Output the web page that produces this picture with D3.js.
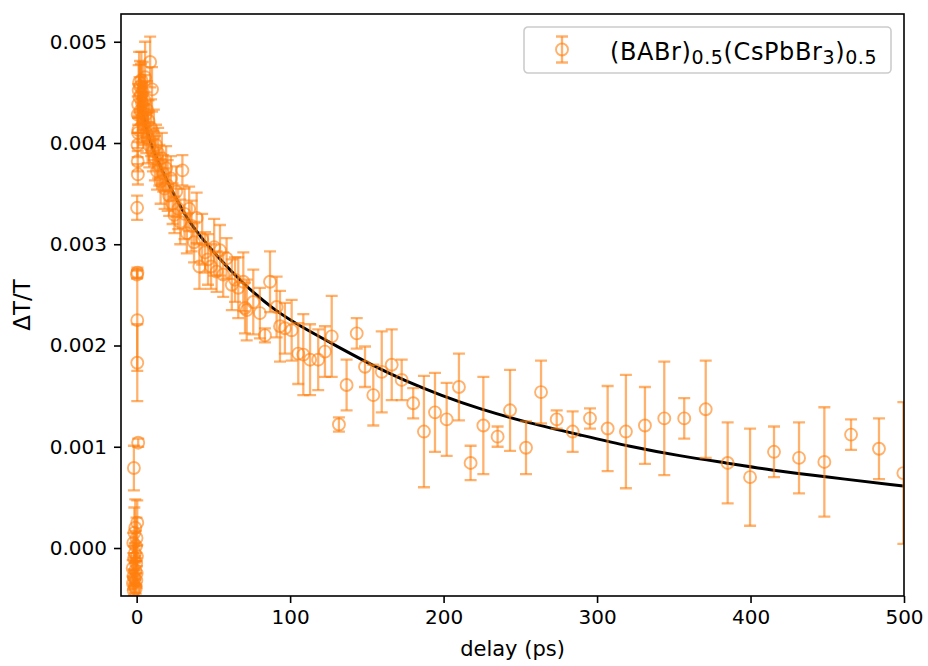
<!DOCTYPE html>
<html>
<head>
<meta charset="utf-8">
<script src="https://cdn.jsdelivr.net/npm/d3@7"></script>
<style>
  body { margin: 0; background: #fff; }
  text { font-family: "DejaVu Sans", sans-serif; fill: #000; }
</style>
</head>
<body>
<div id="chart"></div>
<script>
// Delay (ps) of each measured point.
const delay = [
  -2.6, -2.4, -2.2, -2.0, -1.9, -1.7, -1.5, -1.4, -1.2, -1.1, -0.9, -0.8, -0.6, -0.5, -0.3, -0.2, -0.1, 0.0, 0.2, 0.4,
  -1.8, 1.0, 0.4, 0.4, 0.2, 0.5, 0.3, 0.8, 0.6, 0.9, 0.7, 1.1, 0.7,
  1.0, 1.3, 1.6, 1.9, 2.2, 2.5, 2.8, 3.1, 3.4, 3.7, 4.0, 4.3, 4.7, 5.1, 5.5, 5.9, 6.3, 6.7, 7.2, 7.7,
  8.2, 8.8, 9.4, 10.0, 10.6, 11.2, 11.9, 12.6, 13.3, 14.0, 14.8, 15.6, 16.4, 17.3, 18.2, 19.2, 20.2,
  21.2, 22.3, 23.4, 24.6, 25.8, 27.1, 28.4, 29.8, 31.2, 32.7, 34.2, 35.8, 37.4, 39.1, 40.9, 42.7,
  44.6, 46.5, 48.5, 50.5, 52.1, 54.3, 56.4, 58.6, 62.0, 64.1, 66.2, 69.5, 70.6, 71.7, 76.0, 80.3,
  83.6, 86.9, 91.2, 93.4, 96.6, 101.0, 105.3, 108.6, 113.0, 118.3, 122.7, 127.1, 131.8, 136.8,
  143.4, 148.8, 154.2, 159.7, 166.2, 172.7, 180.2, 187.2, 194.4, 202.0, 210.0, 217.6, 225.9,
  235.2, 243.3, 253.7, 263.5, 273.7, 284.1, 295.4, 306.9, 318.8, 331.2, 343.8, 356.8, 370.8,
  385.1, 399.7, 415.3, 431.6, 448.1, 465.5, 483.7, 499.6
];

// ΔT/T of each point, in units of 1e-3.
const signal = [
  -0.20, -0.35, 0.05, -0.28, -0.42, -0.10, 0.15, -0.30, -0.05, -0.38, 0.20, -0.22, -0.40, 0.02, -0.15, -0.32, 0.10, -0.25, -0.08, 0.25,
  0.79, 1.04, 1.83, 2.25, 2.70, 2.72, 3.36, 3.69, 3.98, 4.10, 4.28, 4.13, 3.82,
  4.38, 4.52, 4.60, 4.45, 4.56, 4.32, 4.48, 4.62, 4.40, 4.25, 4.50, 4.35, 4.18, 4.42, 4.65, 4.28, 4.10, 4.33, 4.05, 4.22,
  3.98, 4.80, 4.15, 4.53, 3.92, 4.08, 3.85, 3.98, 3.72, 3.90, 3.78, 3.62, 3.85, 3.70, 3.55, 3.75, 3.58,
  3.48, 3.65, 3.40, 3.29, 3.52, 3.35, 3.22, 3.73, 3.30, 3.11, 3.35, 3.18, 3.02, 3.26, 2.78, 3.05,
  2.92, 2.85, 2.78, 2.97, 2.73, 2.94, 2.70, 2.86, 2.60, 2.65, 2.57, 2.63, 2.37, 2.35, 2.43, 2.32,
  2.10, 2.63, 2.38, 2.19, 2.17, 2.15, 1.92, 1.91, 1.86, 1.86, 1.94, 2.09, 1.22, 1.61,
  2.12, 1.79, 1.51, 1.74, 1.81, 1.66, 1.43, 1.15, 1.34, 1.27, 1.59, 0.84, 1.21,
  1.10, 1.36, 0.99, 1.54, 1.27, 1.15, 1.28, 1.18, 1.15, 1.21, 1.28, 1.28, 1.37,
  0.84, 0.70, 0.95, 0.89, 0.85, 1.12, 0.98, 0.74
];

// Error bar half-length, in units of 1e-3.
const errors = [
  0.08, 0.06, 0.10, 0.07, 0.05, 0.12, 0.25, 0.08, 0.10, 0.06, 0.28, 0.09, 0.05, 0.15, 0.10, 0.07, 0.20, 0.12, 0.10, 0.22,
  0.22, 0.04, 0.38, 0.50, 0.04, 0.05, 0.12, 0.10, 0.12, 0.15, 0.18, 0.12, 0.10,
  0.20, 0.25, 0.30, 0.20, 0.25, 0.22, 0.30, 0.28, 0.20, 0.25, 0.30, 0.22, 0.20, 0.25, 0.35, 0.22, 0.20, 0.28, 0.25, 0.20,
  0.22, 0.25, 0.28, 0.22, 0.20, 0.25, 0.22, 0.20, 0.18, 0.25, 0.20, 0.22, 0.25, 0.18, 0.20, 0.22, 0.25,
  0.20, 0.22, 0.20, 0.18, 0.25, 0.20, 0.22, 0.15, 0.25, 0.20, 0.22, 0.25, 0.20, 0.25, 0.22, 0.25,
  0.20, 0.25, 0.22, 0.28, 0.20, 0.25, 0.22, 0.20, 0.25, 0.22, 0.30, 0.29, 0.25, 0.30, 0.32, 0.25,
  0.07, 0.30, 0.30, 0.35, 0.25, 0.30, 0.30, 0.40, 0.35, 0.30, 0.25, 0.40, 0.07, 0.25,
  0.15, 0.20, 0.30, 0.40, 0.35, 0.20, 0.15, 0.55, 0.39, 0.36, 0.33, 0.17, 0.48,
  0.10, 0.40, 0.26, 0.31, 0.09, 0.20, 0.10, 0.42, 0.56, 0.38, 0.56, 0.20, 0.48,
  0.40, 0.48, 0.25, 0.35, 0.54, 0.15, 0.30, 0.70
];

// Fitted decay curve.
const fitDelay = [1.5, 5, 8.7, 17.3, 25, 33, 41.2, 54.3, 67.3, 89, 110.8, 132.5, 154, 176, 197.6,
  223.7, 256.3, 288.9, 321.5, 354, 385.5, 412.7, 447.4, 499.6];
const fitSignal = [4.47, 4.22, 4.00, 3.70, 3.47, 3.25, 3.08, 2.85, 2.64, 2.352, 2.154, 1.976, 1.80,
  1.643, 1.512, 1.371, 1.232, 1.117, 1.001, 0.909, 0.837, 0.771, 0.705, 0.613];

const xTicks = [0, 100, 200, 300, 400, 500];
const yTicks = [0, 0.001, 0.002, 0.003, 0.004, 0.005];
const legendLabel = [
  { text: "(BABr)", sub: false },
  { text: "0.5", sub: true },
  { text: "(CsPbBr", sub: false },
  { text: "3", sub: true },
  { text: ")", sub: false },
  { text: "0.5", sub: true },
];

const width = 928;
const height = 666;
const margin = { left: 121, right: 24, top: 14, bottom: 70 };
const orange = "#ff7f0e";
const alpha = 0.6;

const points = delay.map((t, i) => ({
  t: t,
  v: signal[i] * 1e-3,
  e: errors[i] * 1e-3,
}));
const fit = fitDelay.map((t, i) => ({ t: t, v: fitSignal[i] * 1e-3 }));

const svg = d3
  .select("#chart")
  .append("svg")
  .attr("width", width)
  .attr("height", height);

const x = d3
  .scaleLinear()
  .domain([-10.2, 500])
  .range([margin.left, width - margin.right]);

const y = d3
  .scaleLinear()
  .domain([-0.000474, 0.005274])
  .range([height - margin.bottom, margin.top]);

svg
  .append("clipPath")
  .attr("id", "plot-clip")
  .append("rect")
  .attr("x", margin.left)
  .attr("y", margin.top)
  .attr("width", width - margin.left - margin.right)
  .attr("height", height - margin.top - margin.bottom);

const plot = svg.append("g").attr("clip-path", "url(#plot-clip)");

// Fit line goes underneath the points.
const line = d3
  .line()
  .x((d) => x(d.t))
  .y((d) => y(d.v))
  .curve(d3.curveBasis);

plot
  .append("path")
  .datum(fit)
  .attr("d", line)
  .attr("fill", "none")
  .attr("stroke", "#000")
  .attr("stroke-width", 3);

// Error bars, caps and hollow markers.
const cap = 6;
const pt = plot
  .selectAll("g.pt")
  .data(points)
  .enter()
  .append("g")
  .attr("class", "pt")
  .attr("stroke", orange)
  .attr("stroke-width", 2.3)
  .attr("fill", "none");

pt.append("line")
  .attr("x1", (d) => x(d.t))
  .attr("x2", (d) => x(d.t))
  .attr("y1", (d) => y(d.v - d.e))
  .attr("y2", (d) => y(d.v + d.e))
  .attr("stroke-opacity", alpha);

pt.append("path")
  .attr("d", (d) => {
    const cx = x(d.t);
    return (
      "M" + (cx - cap) + "," + y(d.v + d.e) + "H" + (cx + cap) +
      "M" + (cx - cap) + "," + y(d.v - d.e) + "H" + (cx + cap)
    );
  })
  .attr("stroke-opacity", alpha);

pt.append("circle")
  .attr("cx", (d) => x(d.t))
  .attr("cy", (d) => y(d.v))
  .attr("r", 6)
  .attr("stroke-width", 1.9)
  .attr("stroke-opacity", alpha);

// Axes.
const xAxis = d3.axisBottom(x).tickValues(xTicks).tickSize(7).tickPadding(7);
const yAxis = d3
  .axisLeft(y)
  .tickValues(yTicks)
  .tickSize(7)
  .tickPadding(7)
  .tickFormat(d3.format(".3f"));

const gx = svg
  .append("g")
  .attr("transform", "translate(0," + (height - margin.bottom) + ")")
  .call(xAxis);
const gy = svg
  .append("g")
  .attr("transform", "translate(" + margin.left + ",0)")
  .call(yAxis);

[gx, gy].forEach((g) => {
  g.select(".domain").remove();
  g.selectAll(".tick line").attr("stroke", "#000").attr("stroke-width", 1.6);
  g.selectAll(".tick text")
    .attr("font-size", 20)
    .attr("font-family", "DejaVu Sans");
});

// Frame.
svg
  .append("rect")
  .attr("x", margin.left)
  .attr("y", margin.top)
  .attr("width", width - margin.left - margin.right)
  .attr("height", height - margin.top - margin.bottom)
  .attr("fill", "none")
  .attr("stroke", "#000")
  .attr("stroke-width", 1.6);

// Axis labels.
svg
  .append("text")
  .attr("x", (margin.left + width - margin.right) / 2)
  .attr("y", 656)
  .attr("text-anchor", "middle")
  .attr("font-size", 21)
  .text("delay (ps)");

svg
  .append("text")
  .attr("transform", "translate(30," + (margin.top + height - margin.bottom) / 2 + ") rotate(-90)")
  .attr("text-anchor", "middle")
  .attr("font-size", 23)
  .text("ΔT/T");

// Legend.
const legend = svg.append("g").attr("transform", "translate(524,27)");
legend
  .append("rect")
  .attr("width", 367)
  .attr("height", 46)
  .attr("rx", 4)
  .attr("fill", "#fff")
  .attr("fill-opacity", 0.8)
  .attr("stroke", "#cccccc")
  .attr("stroke-width", 1.6);

const lm = legend
  .append("g")
  .attr("transform", "translate(38,22.5)")
  .attr("stroke", orange)
  .attr("stroke-opacity", alpha)
  .attr("fill", "none")
  .attr("stroke-width", 2.3);
lm.append("line").attr("y1", -13).attr("y2", 13);
lm.append("path").attr("d", "M-6,-13H6M-6,13H6");
lm.append("circle").attr("r", 6).attr("stroke-width", 1.9);

const lt = legend
  .append("text")
  .attr("x", 86)
  .attr("y", 33)
  .attr("font-size", 24)
  .attr("letter-spacing", 0.6);
legendLabel.forEach((p, i) => {
  const prevSub = i > 0 && legendLabel[i - 1].sub;
  const dy = p.sub ? 4 : prevSub ? -4 : 0;
  lt.append("tspan")
    .attr("dy", dy)
    .attr("font-size", p.sub ? 19 : 24)
    .text(p.text);
});
</script>
</body>
</html>
